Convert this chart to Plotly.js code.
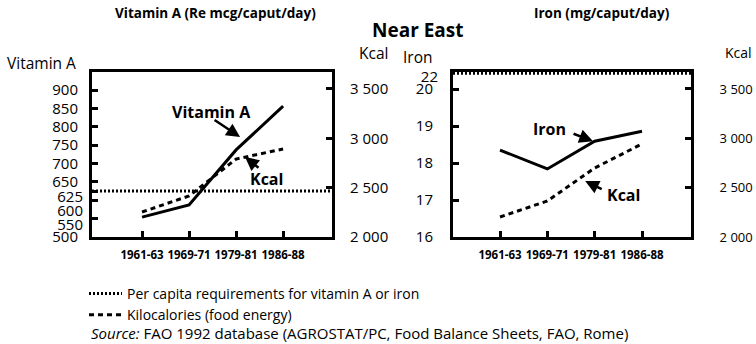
<!DOCTYPE html>
<html>
<head>
<meta charset="utf-8">
<script src="https://cdn.plot.ly/plotly-3.0.1.min.js"></script>
<style>html,body{margin:0;padding:0;background:#fff}#chart{width:756px;height:344px}</style>
</head>
<body>
<div id="chart"></div>
<script>
// ---- data ----
const periods = ['1961-63', '1969-71', '1979-81', '1986-88'];
const vitaminA = [554, 587, 737, 856];            // Re mcg/caput/day
const kcalVitPanel = [2253, 2416, 2790, 2892];     // Kcal as drawn in the vitamin A panel
const iron = [18.35, 17.84, 18.59, 18.86];         // mg/caput/day
const kcalIronPanel = [2203, 2365, 2699, 2943];    // Kcal as drawn in the iron panel
const vitaminAReq = 625;
const ironReq = 22;

// ---- tick labels ----
const vitTicks = [500, 650, 700, 750, 800, 850, 900];
const vitTicksA = [550, 625];
const vitTicksB = [600];
const kcalTicks = [2000, 2500, 3000, 3500];
const kcalTickText = ['2 000', '2 500', '3 000', '3 500'];
const ironTicks = [16, 17, 18, 19, 20];
const ironReqTicks = [22];

const W = 756, H = 344;
const px = v => v / W;
const py = v => 1 - v / H;
const FONT = 'Open Sans, sans-serif';
const BLACK = '#000';
const DASH = '5px,4px';
const DOT = '2px,2px';

const yDom = [py(237), py(72)];
const baseAxis = {
  showgrid: false, zeroline: false, ticks: 'inside', ticklen: 6, tickwidth: 3,
  tickcolor: BLACK, linecolor: BLACK, tickfont: {family: FONT, size: 15, color: BLACK}
};
const xAxisBase = Object.assign({}, baseAxis, {
  type: 'category', categoryorder: 'array', categoryarray: periods,
  showline: true, linewidth: 3, mirror: true, fixedrange: true, tickangle: 0,
  tickfont: {family: FONT, size: 11.5, color: BLACK, weight: 'bold'},
  ticklabelstandoff: 5
});

const traces = [
  {x: periods, y: vitaminA, xaxis: 'x', yaxis: 'y', mode: 'lines', showlegend: false,
   line: {color: BLACK, width: 3}},
  {x: periods, y: kcalVitPanel, xaxis: 'x', yaxis: 'y2', mode: 'lines', name: 'Kilocalories (food energy)',
   showlegend: true, legendrank: 2, line: {color: BLACK, width: 3, dash: DASH}},
  {x: periods, y: iron, xaxis: 'x2', yaxis: 'y3', mode: 'lines', showlegend: false,
   line: {color: BLACK, width: 3}},
  {x: periods, y: kcalIronPanel, xaxis: 'x2', yaxis: 'y4', mode: 'lines', showlegend: false,
   line: {color: BLACK, width: 3, dash: DASH}},
  // empty helper traces so the label-only overlay axes are drawn
  {x: [], y: [], xaxis: 'x', yaxis: 'y6', mode: 'lines', showlegend: false, hoverinfo: 'skip'},
  {x: [], y: [], xaxis: 'x', yaxis: 'y7', mode: 'lines', showlegend: false, hoverinfo: 'skip'}
];

const layout = {
  width: W, height: H, margin: {l: 0, r: 0, t: 0, b: 0},
  paper_bgcolor: '#fff', plot_bgcolor: 'rgba(0,0,0,0)',
  font: {family: FONT, color: BLACK},
  showlegend: true,
  legend: {x: px(84), y: py(278), xanchor: 'left', yanchor: 'top', orientation: 'v',
           font: {family: FONT, size: 14, color: BLACK}, bgcolor: 'rgba(0,0,0,0)',
           tracegroupgap: 0, itemwidth: 33},
  xaxis: Object.assign({}, xAxisBase, {domain: [px(92), px(332)], range: [-1.064, 4.04], anchor: 'y'}),
  xaxis2: Object.assign({}, xAxisBase, {domain: [px(453), px(691)], range: [-0.993, 4.035], anchor: 'y3'}),
  yaxis: Object.assign({}, baseAxis, {domain: yDom, range: [500, 949], tickvals: vitTicks, anchor: 'x',
    showline: true, linewidth: 3, mirror: true, ticklabelstandoff: 8}),
  yaxis6: Object.assign({}, baseAxis, {overlaying: 'y', side: 'left', anchor: 'x', range: [500, 949],
    tickvals: vitTicksA, showline: false, ticklabelshift: 6, ticklabelstandoff: 8}),
  yaxis7: Object.assign({}, baseAxis, {overlaying: 'y', side: 'left', anchor: 'x', range: [500, 949],
    tickvals: vitTicksB, showline: false, ticklabelshift: 10, ticklabelstandoff: 8}),
  yaxis2: Object.assign({}, baseAxis, {overlaying: 'y', side: 'right', anchor: 'x', range: [2000, 3672],
    tickvals: kcalTicks, ticktext: kcalTickText, showline: true, linewidth: 3, ticklabelstandoff: 12}),
  yaxis3: Object.assign({}, baseAxis, {domain: yDom, anchor: 'x2', range: [16, 20.46], tickvals: ironTicks,
    showline: true, linewidth: 3, mirror: true, ticklabelstandoff: 14}),
  yaxis5: Object.assign({}, baseAxis, {overlaying: 'y3', side: 'left', anchor: 'x2', range: [16, 22.05],
    tickvals: ironReqTicks, ticks: '', showline: false, ticklabelshift: 3, ticklabelstandoff: 14}),
  yaxis4: Object.assign({}, baseAxis, {overlaying: 'y3', side: 'right', anchor: 'x2', range: [2000, 3672],
    tickvals: kcalTicks, ticktext: kcalTickText, showline: true, linewidth: 3, ticklabelstandoff: 23,
    tickfont: {family: FONT, size: 13, color: BLACK}}),
  shapes: [
    {type: 'line', xref: 'x domain', x0: 0, x1: 1, yref: 'y', y0: vitaminAReq, y1: vitaminAReq,
     line: {color: BLACK, width: 3, dash: DOT}, showlegend: true, legendrank: 1,
     name: 'Per capita requirements for vitamin A or iron'},
    {type: 'line', xref: 'x2 domain', x0: 0, x1: 1, yref: 'y5', y0: ironReq, y1: ironReq,
     line: {color: BLACK, width: 3, dash: DOT}, showlegend: false}
  ],
  annotations: []
};

function txt(text, x, y, size, bold, xanchor) {
  layout.annotations.push({text: text, xref: 'paper', yref: 'paper', x: px(x), y: py(y),
    xanchor: xanchor || 'center', yanchor: 'middle', showarrow: false,
    font: {family: FONT, size: size, color: BLACK, weight: bold ? 'bold' : 'normal'}});
}
function arrow(xref, yref, x, y, ax, ay) {
  layout.annotations.push({text: '', xref: xref, yref: yref, x: x, y: y, ax: ax, ay: ay,
    axref: 'pixel', ayref: 'pixel', showarrow: true, arrowhead: 2, arrowsize: 1.1,
    arrowwidth: 2.5, arrowcolor: BLACK});
}

txt('Vitamin A (Re mcg/caput/day)', 215, 13, 13.5, true);
txt('Near East', 418, 30, 19, true);
txt('Iron (mg/caput/day)', 602, 13, 13.5, true);
txt('Vitamin A', 5, 63, 15.5, false, 'left');
txt('Kcal', 357, 53, 15.5, false, 'left');
txt('Iron', 401, 57, 15.5, false, 'left');
txt('Kcal', 723, 52, 14, false, 'left');

txt('Vitamin A', 211, 112, 16, true);
txt('Kcal', 266, 179, 16, true);
txt('Iron', 549, 129, 16, true);
txt('Kcal', 623, 195, 16, true);

arrow('x', 'y', 2.085, 772, -27, -18);
arrow('x', 'y2', 2.19, 2811, 15, 12);
arrow('x2', 'y3', 1.965, 18.59, -21, -8);
arrow('x2', 'y4', 1.80, 2568, 18, 9);

layout.annotations.push({text: '<i>Source:</i> FAO 1992 database (AGROSTAT/PC, Food Balance Sheets, FAO, Rome)',
  xref: 'paper', yref: 'paper', x: px(89), y: py(333), xanchor: 'left', yanchor: 'middle', showarrow: false,
  font: {family: FONT, size: 15, color: BLACK}});

Plotly.newPlot('chart', traces, layout, {staticPlot: true, displayModeBar: false});
</script>
</body>
</html>
